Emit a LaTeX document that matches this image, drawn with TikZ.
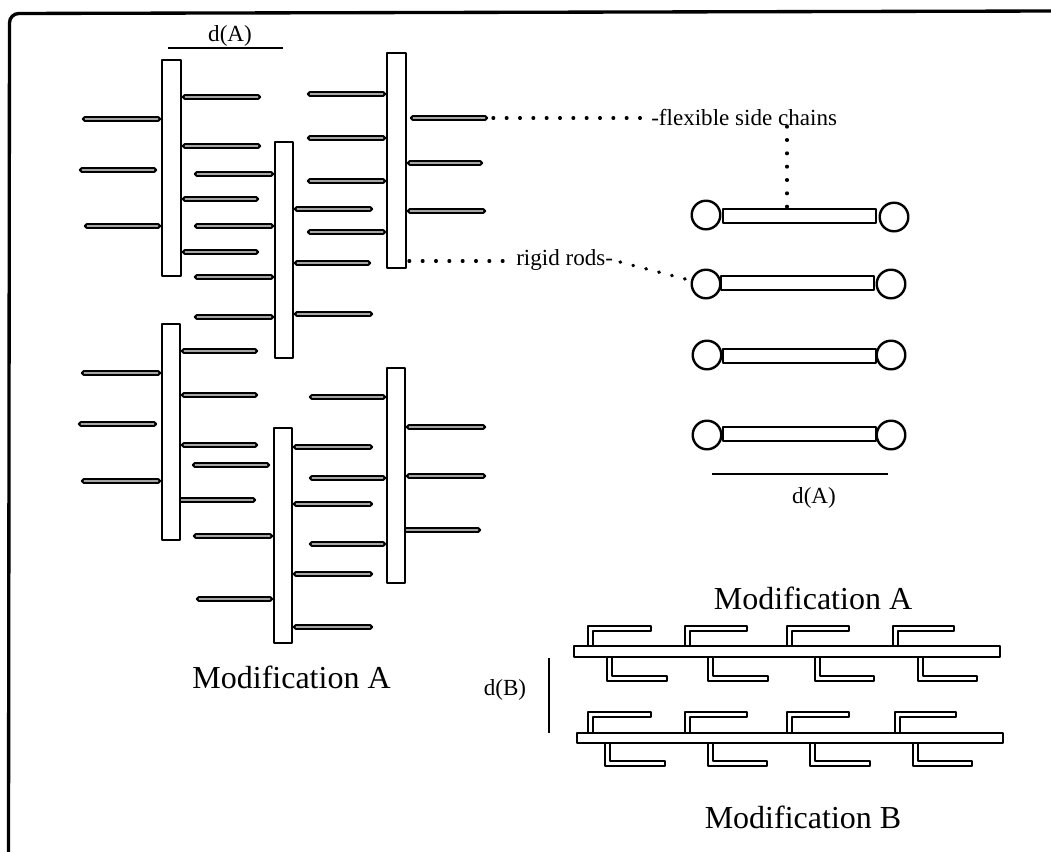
\documentclass[tikz,border=0pt]{standalone}
\usepackage{fontspec}
\setmainfont{Liberation Serif}
\tikzset{
  x=0.75pt,y=-0.75pt,
  ink/.style={draw=black,line width=1.8pt,line join=round},
  part/.style={ink,fill=white},
  thinpart/.style={draw=black,fill=white,line width=1.6pt,line join=round},
  tie/.style={line width=2.5pt,line cap=round,dash pattern=on 0.5pt off 9.5pt,draw=black},
  big/.style={font=\fontsize{24}{28}\selectfont,inner sep=0pt},
  small/.style={font=\fontsize{17.3}{20}\selectfont,inner sep=0pt}
}
\newcommand{\rodbox}[4]{\draw[part] (#1+0.8,#3+0.8) rectangle (#2-0.8,#4-0.8);}
\newcommand{\chain}[3]{\draw[thinpart,rounded corners=1.2pt] (#1+1,#3-1.8) rectangle (#2-1,#3+1.8);}
\newcommand{\hookup}[4]{\draw[thinpart] (#1+1,#4) -- (#1+1,#3+1) -- (#2-1,#3+1) -- (#2-1,#3+6) -- (#1+6,#3+6) -- (#1+6,#4);}
\newcommand{\hookdn}[4]{\draw[thinpart] (#1+1,#3) -- (#1+1,#4-1) -- (#2-1,#4-1) -- (#2-1,#4-6) -- (#1+6,#4-6) -- (#1+6,#3);}
\begin{document}
\begin{tikzpicture}
\useasboundingbox (0,0) rectangle (1051,851);
\fill[white] (0,0) rectangle (1051,851);
% frame
\draw[line width=2.5pt,rounded corners=7pt] (8.5,853) -- (9.5,13.5) -- (1053,11);
% left-hand assembly: side chains
\foreach \a/\b/\c in {182/261/97,182/261/146,182/259/199,182/259/252,
  82/161/119,79/157/170,84/161/226,
  194/274/174,194/274/226,194/274/277,194/274/317,
  294/373/209,294/371/263,294/373/314,
  307/386/94,307/386/138,307/386/181,307/386/232,
  410/488/118,407/483/163,407/486/211,
  181/258/351,181/258/395,181/258/445,177/256/500,
  81/161/373,78/157/424,81/161/481,192/270/465,
  193/273/536,196/273/599,
  293/373/447,293/373/504,293/373/574,293/373/627,
  309/386/397,309/386/478,309/386/544,
  406/486/427,406/486/476,402/481/530}
  {\chain{\a}{\b}{\c}}
% rods
\rodbox{161}{182}{59}{277}
\rodbox{274}{294}{141}{359}
\rodbox{386}{407}{52}{269}
\rodbox{161}{181}{323}{541}
\rodbox{273}{293}{427}{644}
\rodbox{386}{406}{367}{584}
% top d(A)
\draw[line width=2pt] (168,48) -- (283,48);
\node[small] (topd) at (230,36) {d(A)};
\node[big] (capL) at (291.5,677) {Modification A};
% right-hand molecules
\foreach \l/\r/\t/\cl/\cr/\cy in {722/877/208/706/894/217,720/875/275/706/891/284,722/877/348/707/891/355,722/877/426/707/891/435}{
  \draw[part] (\l+0.8,\t+0.8) rectangle (\r-0.8,\t+15.2);
  \draw[ink] (\cl,\ifnum\cy=217 215\else\cy\fi) circle[radius=14.3];
  \draw[ink] (\cr,\cy) circle[radius=14.3];
}
\draw[line width=2pt] (712,474) -- (888,474);
\node[small] (botd) at (814,498) {d(A)};
\node[big] (capR) at (813,598) {Modification A};
% labels and leader dots
\node[small,anchor=west] (flex) at (651,117) {-flexible side chains};
\node[small,anchor=west] (rigid) at (516,260) {rigid rods-};
\coordinate (fa) at (493,118);
\coordinate (fb) at (642,118);
\coordinate (ra) at (409,261);
\coordinate (rb) at (503,261);
\coordinate (rc) at (620,262);
\coordinate (rd) at (689,280);
\coordinate (va) at (787,207);
\coordinate (vb) at (787,123);
\draw[tie] (fa) -- (fb);
\draw[tie] (ra) -- (rb);
\draw[tie] (rc) -- (rd);
\draw[tie] (va) -- (vb);
% Modification B
\foreach \a/\b in {587/652,684/748,786/850,892/955}{\hookup{\a}{\b}{625}{646}}
\foreach \a/\b in {606/668,707/769,814/875,917/978}{\hookdn{\a}{\b}{657}{682}}
\foreach \a/\b in {587/652,684/748,786/850,894/957}{\hookup{\a}{\b}{711}{733}}
\foreach \a/\b in {604/666,707/768,809/871,912/973}{\hookdn{\a}{\b}{743}{767}}
\draw[part] (574,646) rectangle (1000,657);
\draw[part] (577,733) rectangle (1003,743);
\draw[line width=1.7pt] (549,658) -- (549,733);
\node[small] (dB) at (505,690) {d(B)};
\node[big] (capB) at (803,817) {Modification B};
\end{tikzpicture}
\end{document}
